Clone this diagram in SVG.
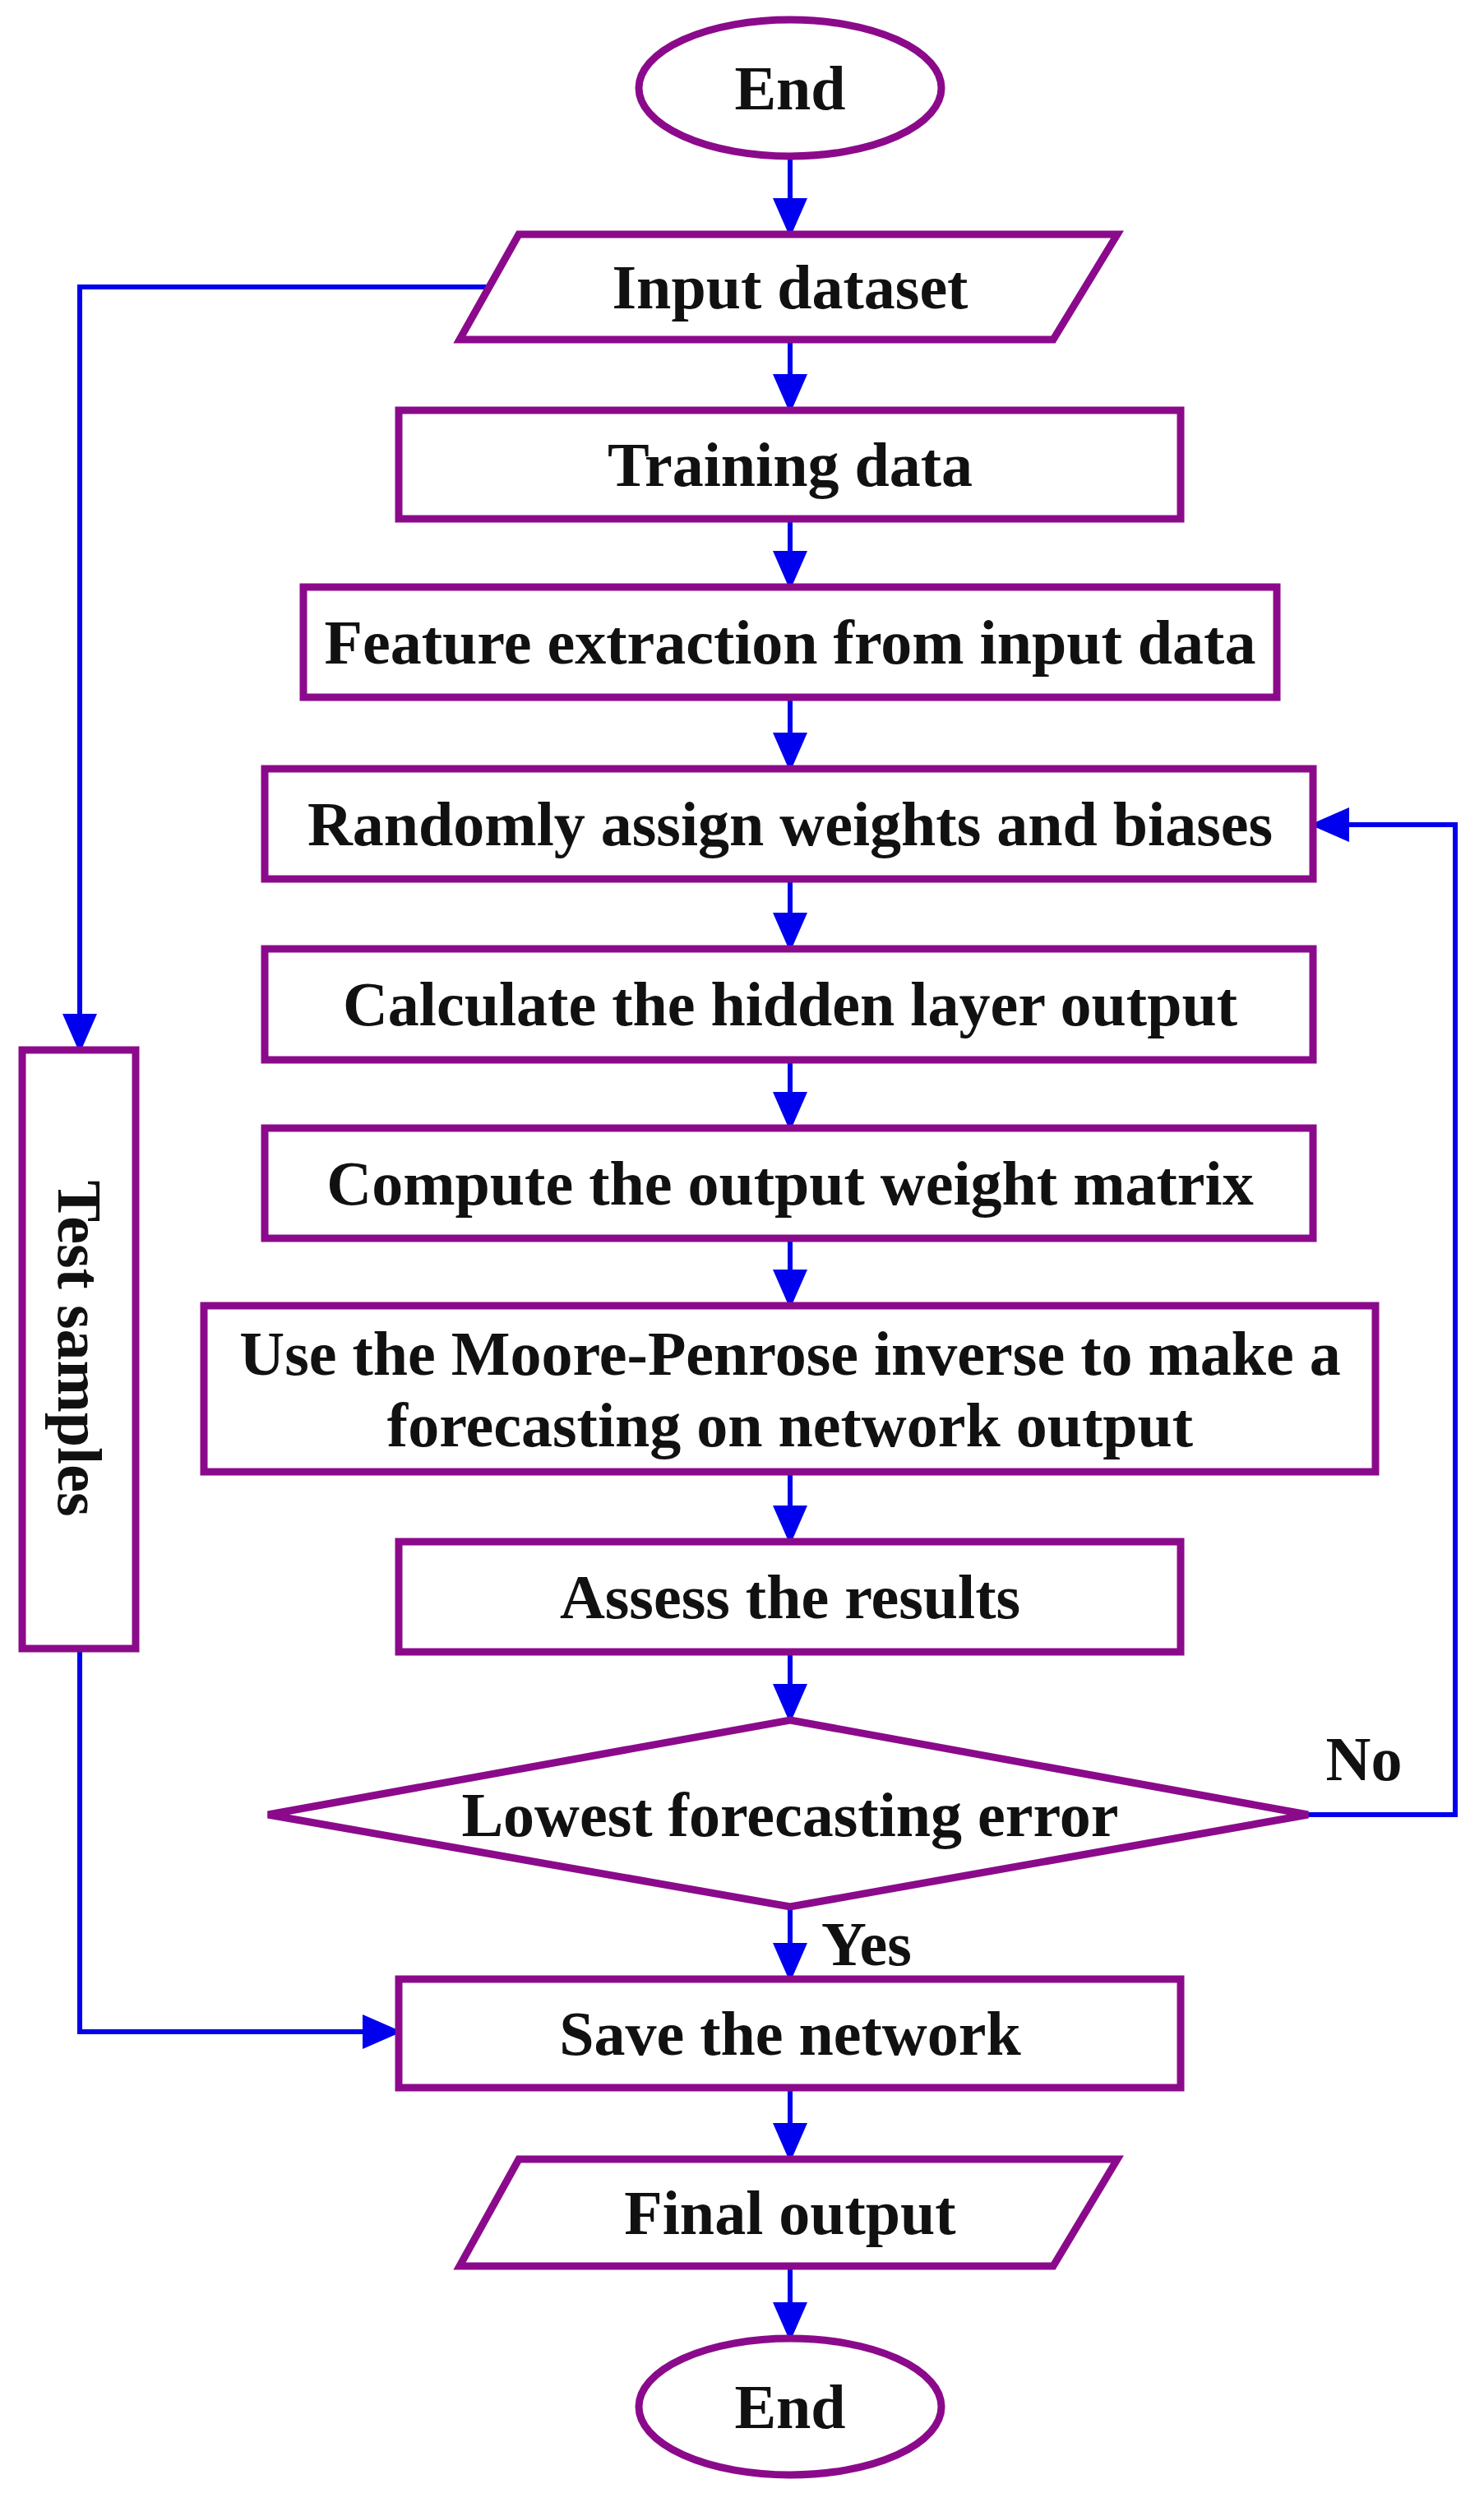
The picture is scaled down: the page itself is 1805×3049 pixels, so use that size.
<svg xmlns="http://www.w3.org/2000/svg" width="1805" height="3049" viewBox="0 0 1805 3049">
<style>
.n{fill:#fff;stroke:#8B0A8B;stroke-width:9}
.t{font-family:"Liberation Serif",serif;font-weight:bold;font-size:76px;fill:#111;text-anchor:middle;dominant-baseline:central}
.c{fill:none;stroke:#0000EE;stroke-width:6}
</style>
<defs><marker id="a" markerWidth="8" markerHeight="8" refX="7" refY="4" orient="auto" markerUnits="strokeWidth"><path d="M0,0.5 L8,4 L0,7.5 Z" fill="#0000EE"/></marker></defs>
<rect width="1805" height="3049" fill="#fff"/>
<g id="connectors">
<path class="c" marker-end="url(#a)" d="M961,190 V283"/>
<path class="c" marker-end="url(#a)" d="M961,413 V497"/>
<path class="c" marker-end="url(#a)" d="M961,631 V712"/>
<path class="c" marker-end="url(#a)" d="M961,848 V933"/>
<path class="c" marker-end="url(#a)" d="M961,1069 V1152"/>
<path class="c" marker-end="url(#a)" d="M961,1289 V1370"/>
<path class="c" marker-end="url(#a)" d="M961,1506 V1586"/>
<path class="c" marker-end="url(#a)" d="M961,1790 V1873"/>
<path class="c" marker-end="url(#a)" d="M961,2009 V2090"/>
<path class="c" marker-end="url(#a)" d="M961,2319 V2405"/>
<path class="c" marker-end="url(#a)" d="M961,2539 V2624"/>
<path class="c" marker-end="url(#a)" d="M961,2756 V2842"/>
<path class="c" marker-end="url(#a)" d="M592,349 H97 V1275"/>
<path class="c" marker-end="url(#a)" d="M97,2005 V2471 H483"/>
<path class="c" marker-end="url(#a)" d="M1591,2207 H1770 V1003 H1599"/>
</g>
<g id="start"><ellipse class="n" cx="961" cy="107" rx="184" ry="83"/><text class="t" x="961" y="107">End</text></g>
<g id="input"><polygon class="n" points="631,285 1359,285 1281,413 559,413"/><text class="t" x="961" y="349">Input dataset</text></g>
<g id="training"><rect class="n" x="485" y="499" width="951" height="132"/><text class="t" x="961" y="565">Training data</text></g>
<g id="feature"><rect class="n" x="369" y="714" width="1184" height="134"/><text class="t" x="961" y="781">Feature extraction from input data</text></g>
<g id="random"><rect class="n" x="322" y="935" width="1275" height="134"/><text class="t" x="961" y="1002">Randomly assign weights and biases</text></g>
<g id="hidden"><rect class="n" x="322" y="1154" width="1275" height="135"/><text class="t" x="961" y="1221">Calculate the hidden layer output</text></g>
<g id="weights"><rect class="n" x="322" y="1372" width="1275" height="134"/><text class="t" x="961" y="1439">Compute the output weight matrix</text></g>
<g id="moore"><rect class="n" x="248" y="1588" width="1425" height="202"/><text class="t" x="961" y="1646">Use the Moore-Penrose inverse to make a</text><text class="t" x="961" y="1733">forecasting on network output</text></g>
<g id="assess"><rect class="n" x="485" y="1875" width="951" height="134"/><text class="t" x="961" y="1942">Assess the results</text></g>
<g id="decision"><polygon class="n" points="961,2092 1591,2207 961,2319 326,2207"/><text class="t" x="961" y="2207">Lowest forecasting error</text></g>
<g id="save"><rect class="n" x="485" y="2407" width="951" height="132"/><text class="t" x="961" y="2473">Save the network</text></g>
<g id="final"><polygon class="n" points="631,2626 1359,2626 1281,2756 559,2756"/><text class="t" x="961" y="2691">Final output</text></g>
<g id="end"><ellipse class="n" cx="961" cy="2927" rx="184" ry="83"/><text class="t" x="961" y="2927">End</text></g>
<g id="test"><rect class="n" x="27" y="1277" width="138" height="728"/><text class="t" transform="translate(97,1640) rotate(90)">Test samples</text></g>
<g id="labels"><text class="t" x="1659" y="2139">No</text><text class="t" x="1054" y="2364">Yes</text></g>
</svg>
